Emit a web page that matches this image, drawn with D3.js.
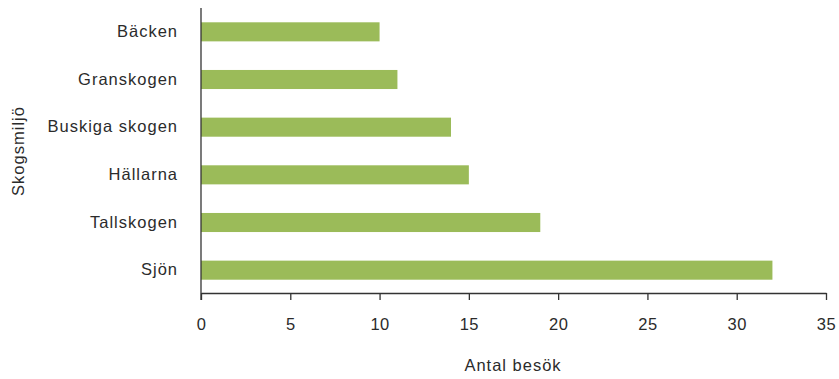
<!DOCTYPE html>
<html><head><meta charset="utf-8">
<script src="https://cdn.jsdelivr.net/npm/d3@7"></script>
<style>body{margin:0;background:#fff}svg text{font-family:"Liberation Sans",Arial,sans-serif;fill:#2b2b2b}</style>
</head><body><svg id="c" width="839" height="379"></svg>
<script>
const categories = ["Bäcken","Granskogen","Buskiga skogen","Hällarna","Tallskogen","Sjön"];
const values = [10,11,14,15,19,32];
const xTicks = [0,5,10,15,20,25,30,35];
const xTitle = "Antal besök";
const yTitle = "Skogsmiljö";

const svg = d3.select("#c");
const x = d3.scaleLinear().domain([0,35]).range([201,826]);
const y = d3.scaleBand().domain(categories).range([8,294]).paddingInner(0.6).paddingOuter(0.3);

svg.selectAll("rect.bar").data(categories).join("rect")
  .attr("class","bar")
  .attr("x", x(0)).attr("y", d=>y(d))
  .attr("width", (d,i)=>x(values[i])-x(0))
  .attr("height", y.bandwidth())
  .attr("fill","#9bbb59");

const xa = svg.append("g").attr("transform","translate(0,293)")
  .call(d3.axisBottom(x).tickValues(xTicks).tickSize(7).tickPadding(18).tickSizeOuter(0));
xa.select(".domain").attr("stroke","#333").attr("stroke-width",1.3);
xa.selectAll(".tick line").attr("stroke","#333").attr("stroke-width",1.3);
xa.selectAll("text").attr("font-size",16.5).attr("letter-spacing",0.5);

const ya = svg.append("g").attr("transform","translate(201,0)")
  .call(d3.axisLeft(y).tickSize(0).tickPadding(23).tickSizeOuter(0));
ya.select(".domain").attr("d","M0,8V300").attr("stroke","#333").attr("stroke-width",1.3);
ya.selectAll("text").attr("font-size",16.5).attr("letter-spacing",1);

svg.append("text").attr("x",513).attr("y",371).attr("text-anchor","middle").attr("font-size",16.5).attr("letter-spacing",1).text(xTitle);
svg.append("text").attr("transform","translate(24,151) rotate(-90)").attr("text-anchor","middle").attr("font-size",16.5).attr("letter-spacing",1).text(yTitle);
</script></body></html>
